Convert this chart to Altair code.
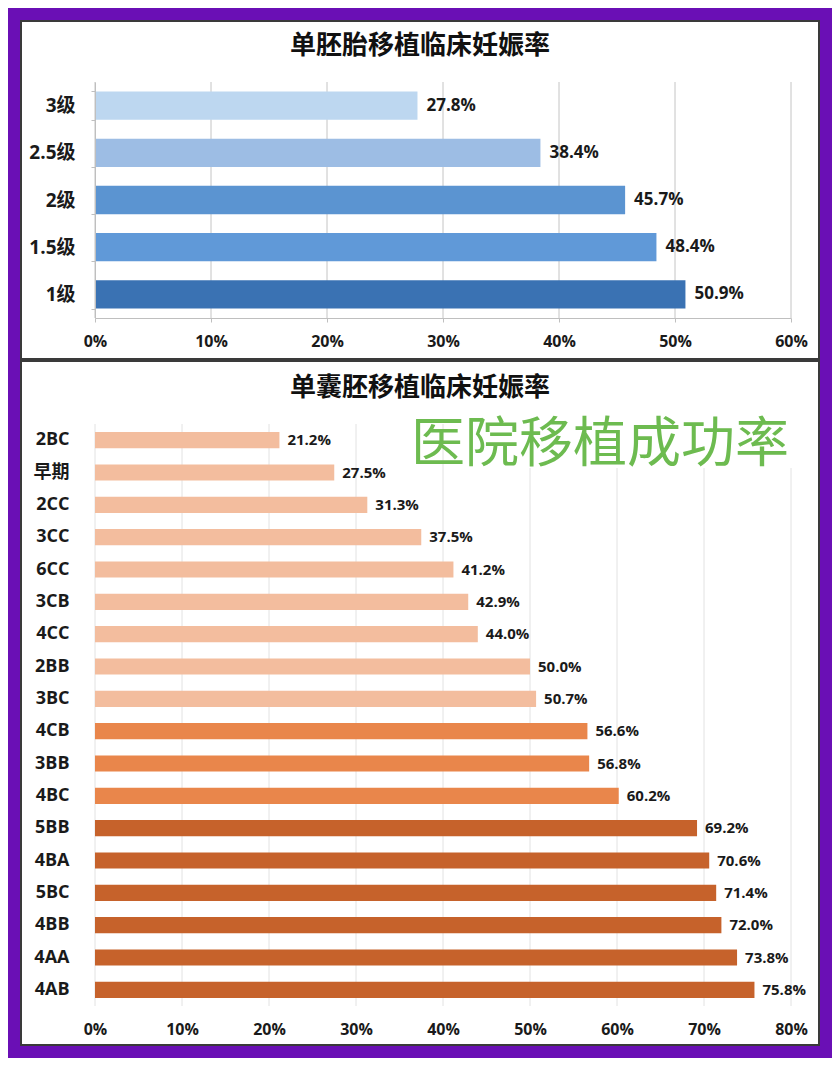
import altair as alt
import pandas as pd

FONT = "Open Sans, Noto Sans CJK SC, sans-serif"
CJK = "Noto Sans CJK SC"

# ---- data ----
top_title = "单胚胎移植临床妊娠率"
top_cats = ["3级", "2.5级", "2级", "1.5级", "1级"]
top_vals = [0.278, 0.384, 0.457, 0.484, 0.509]
top_colors = ["#bdd7f0", "#9dbde4", "#5b94d1", "#6099d8", "#3a72b3"]
top_ticks = [0, 0.1, 0.2, 0.3, 0.4, 0.5, 0.6]

bot_title = "单囊胚移植临床妊娠率"
bot_cats = ["2BC", "早期", "2CC", "3CC", "6CC", "3CB", "4CC", "2BB", "3BC",
            "4CB", "3BB", "4BC", "5BB", "4BA", "5BC", "4BB", "4AA", "4AB"]
bot_vals = [0.212, 0.275, 0.313, 0.375, 0.412, 0.429, 0.440, 0.500, 0.507,
            0.566, 0.568, 0.602, 0.692, 0.706, 0.714, 0.720, 0.738, 0.758]
bot_colors = ["#f3bd9e"] * 9 + ["#e9864b"] * 3 + ["#c6622b"] * 6
bot_ticks = [0, 0.1, 0.2, 0.3, 0.4, 0.5, 0.6, 0.7, 0.8]

overlay = ["医院移植成功率"]

W = 696
TH = 236
BH = 582
PANEL_STROKE = "#3a3a3a"

one = alt.Data(values=[{"p": 1}])

# ---------------- top panel ----------------
top_df = pd.DataFrame({"cat": top_cats, "v": top_vals})
top_grid_df = pd.DataFrame({"v": top_ticks})

xs_top = alt.Scale(domain=[0, 0.6], nice=False, zero=True)
ys_top = alt.Scale(domain=top_cats, paddingInner=0.4, paddingOuter=0.2)

ax_x_top = alt.Axis(format=".0%", values=top_ticks, grid=False, domain=True,
                    domainColor="#bfbfbf", ticks=True, tickColor="#bfbfbf",
                    tickSize=4, labelPadding=11, labelFlush=False, labelFont=FONT,
                    labelFontSize=16, labelFontWeight="bold", labelColor="#1a1a1a",
                    title=None, zindex=1)
ax_y_top = alt.Axis(grid=False, domain=True, domainColor="#bfbfbf", ticks=True,
                    tickColor="#bfbfbf", tickSize=4, tickBand="extent",
                    labelPadding=16, labelFont=FONT, labelFontSize=19,
                    labelFontWeight="bold", labelColor="#1a1a1a", title=None, zindex=1)

x_top = alt.X("v:Q", scale=xs_top, axis=ax_x_top)
y_top = alt.Y("cat:N", sort=top_cats, scale=ys_top, axis=ax_y_top)

bg_top = alt.Chart(one).mark_rect(fill="white", stroke=PANEL_STROKE, strokeWidth=2).encode(
    x=alt.value(-74), x2=alt.value(W + 28), y=alt.value(-61), y2=alt.value(TH + 41))

grid_top = alt.Chart(top_grid_df).mark_rule(color="#c4c4c4", strokeWidth=1).encode(
    x=x_top, y=alt.value(0), y2=alt.value(TH))

bars_top = alt.Chart(top_df).mark_bar().encode(
    x=x_top, y=y_top,
    color=alt.Color("cat:N", scale=alt.Scale(domain=top_cats, range=top_colors), legend=None))

labels_top = alt.Chart(top_df).mark_text(
    align="left", baseline="middle", dx=9, font=FONT, fontSize=17,
    fontWeight="bold", color="#1a1a1a").encode(
    x=x_top, y=y_top, text=alt.Text("v:Q", format=".1%"))

top = alt.layer(bg_top, grid_top, bars_top, labels_top).properties(
    width=W, height=TH,
    title=alt.TitleParams(top_title, font=CJK, fontSize=26, fontWeight="bold",
                          color="#111111", anchor="middle", frame="bounds",
                          offset=-39, zindex=1))

# ---------------- bottom panel ----------------
bot_df = pd.DataFrame({"cat": bot_cats, "v": bot_vals})
bot_grid_df = pd.DataFrame({"v": bot_ticks})
ov_df = pd.DataFrame({"t": overlay})

xs_bot = alt.Scale(domain=[0, 0.8], nice=False, zero=True)
ys_bot = alt.Scale(domain=bot_cats, paddingInner=0.5, paddingOuter=0.25)

ax_x_bot = alt.Axis(format=".0%", values=bot_ticks, grid=False, domain=False,
                    ticks=False, labelPadding=15, labelFlush=False, labelFont=FONT,
                    labelFontSize=16, labelFontWeight="bold", labelColor="#1a1a1a",
                    title=None, zindex=1)
ax_y_bot = alt.Axis(grid=False, domain=False, ticks=False, labelPadding=26,
                    labelFont=FONT, labelFontSize=18, labelFontWeight="bold",
                    labelColor="#1a1a1a", title=None, zindex=1)

x_bot = alt.X("v:Q", scale=xs_bot, axis=ax_x_bot)
y_bot = alt.Y("cat:N", sort=bot_cats, scale=ys_bot, axis=ax_y_bot)

bg_bot = alt.Chart(one).mark_rect(fill="white", stroke=PANEL_STROKE, strokeWidth=2).encode(
    x=alt.value(-74), x2=alt.value(W + 28), y=alt.value(-63), y2=alt.value(BH + 39))

grid_bot = alt.Chart(bot_grid_df).mark_rule(color="#e2e2e2", strokeWidth=1).encode(
    x=x_bot, y=alt.value(0), y2=alt.value(BH))

sticker = alt.Chart(one).mark_rect(fill="white").encode(
    x=alt.value(355), x2=alt.value(713), y=alt.value(-8), y2=alt.value(44))

bars_bot = alt.Chart(bot_df).mark_bar().encode(
    x=x_bot, y=y_bot,
    color=alt.Color("cat:N", scale=alt.Scale(domain=bot_cats, range=bot_colors), legend=None))

labels_bot = alt.Chart(bot_df).mark_text(
    align="left", baseline="middle", dx=8, font=FONT, fontSize=15,
    fontWeight="bold", color="#1a1a1a").encode(
    x=x_bot, y=y_bot, text=alt.Text("v:Q", format=".1%"))

ov_text = alt.Chart(ov_df).mark_text(
    font=CJK, fontSize=54, color="#6dbb50", align="center", baseline="middle").encode(
    text="t:N", x=alt.value(505), y=alt.value(22))

bottom = alt.layer(bg_bot, grid_bot, sticker, bars_bot, labels_bot, ov_text).properties(
    width=W, height=BH,
    title=alt.TitleParams(bot_title, font=CJK, fontSize=26, fontWeight="bold",
                          color="#111111", anchor="middle", frame="bounds",
                          offset=-41, zindex=1))

chart = alt.vconcat(top, bottom, spacing=0).resolve_scale(
    x="independent", y="independent", color="independent").properties(
    background="#6a0fb5", padding=12).configure_view(strokeWidth=0)

chart.save("out.html", embed_options={"renderer": "svg", "actions": False})
